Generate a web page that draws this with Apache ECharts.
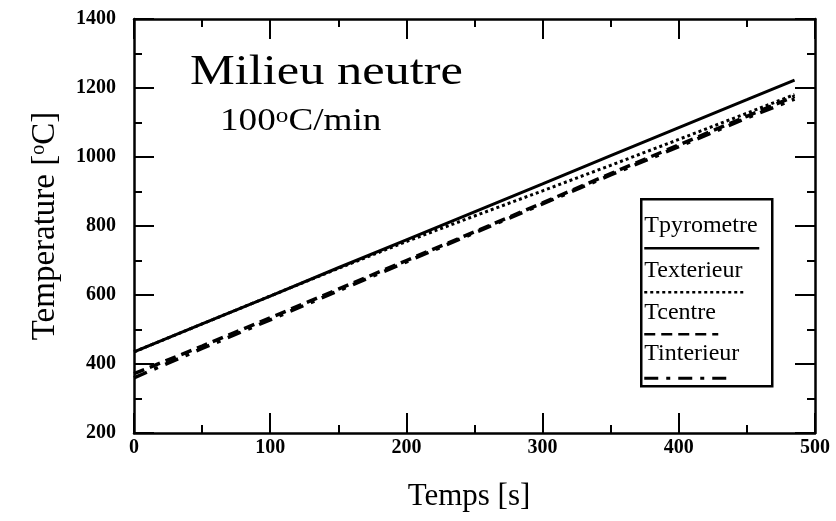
<!DOCTYPE html>
<html>
<head>
<meta charset="utf-8">
<script src="https://cdn.jsdelivr.net/npm/echarts@6/dist/echarts.min.js"></script>
<style>
  html, body { margin: 0; padding: 0; background: #fff; }
  #chart { width: 836px; height: 521px; }
</style>
</head>
<body>
<div id="chart"></div>
<script>
// Time samples [s]
const temps = [0, 50, 100, 150, 200, 250, 300, 350, 400, 450, 485];
// Temperatures [°C]
const tPyrometre  = [435, 516, 597, 679, 760, 841, 922, 1004, 1085, 1166, 1223];
const tExterieur  = [435, 516, 597, 677, 755, 829, 902, 976, 1051, 1127, 1181];
const tCentre     = [372, 452, 534, 617, 700, 783, 867, 952, 1035, 1118, 1176];
const tInterieur  = [360, 445, 528, 612, 696, 780, 864, 948, 1030, 1113, 1168];
// Axis ranges and ticks
const xRange = [0, 500], xStep = 100;
const yRange = [200, 1400], yStep = 200;

const serif = '"Liberation Serif", "Times New Roman", serif';
const pair = arr => temps.map((t, i) => [t, arr[i]]);

const chart = echarts.init(document.getElementById('chart'), null, { renderer: 'canvas' });

const axisBase = {
  type: 'value',
  axisLine: { show: true, onZero: false, lineStyle: { color: '#000', width: 2.5 } },
  axisTick: { show: true, inside: true, length: 20, lineStyle: { color: '#000', width: 2 } },
  minorTick: { show: true, splitNumber: 2, length: 8, lineStyle: { color: '#000', width: 2 } },
  splitLine: { show: false },
  minorSplitLine: { show: false }
};

const tickFont = { color: '#000', fontFamily: serif, fontWeight: 'bold', fontSize: 20, formatter: v => String(v) };

const lineSeries = (name, arr, type, width) => ({
  name, type: 'line', data: pair(arr), symbol: 'none',
  lineStyle: { color: '#000', width, type }
});

chart.setOption({
  animation: false,
  backgroundColor: '#fff',
  grid: { left: 134, right: 21, top: 19, bottom: 88 },
  xAxis: [
    Object.assign({}, axisBase, {
      position: 'bottom', min: xRange[0], max: xRange[1], interval: xStep,
      axisLabel: Object.assign({ margin: 5 }, tickFont)
    }),
    Object.assign({}, axisBase, {
      position: 'top', min: xRange[0], max: xRange[1], interval: xStep,
      axisLabel: { show: false }
    })
  ],
  yAxis: [
    Object.assign({}, axisBase, {
      position: 'left', min: yRange[0], max: yRange[1], interval: yStep,
      axisLabel: Object.assign({ margin: 18 }, tickFont)
    }),
    Object.assign({}, axisBase, {
      position: 'right', min: yRange[0], max: yRange[1], interval: yStep,
      axisLabel: { show: false }
    })
  ],
  series: [
    lineSeries('Tinterieur', tInterieur, [14, 8, 4, 8], 3.5),
    lineSeries('Tcentre', tCentre, [11, 6], 3.5),
    lineSeries('Texterieur', tExterieur, [3, 3], 3),
    lineSeries('Tpyrometre', tPyrometre, 'solid', 3)
  ],
  graphic: [
    // plot title
    {
      type: 'text', left: 190, top: 52,
      style: { text: 'Milieu neutre', font: '42px ' + serif, fill: '#000' },
      scaleX: 1.2
    },
    {
      type: 'text', left: 220, top: 106,
      style: {
        text: '100{sup|o}C/min',
        font: '31px ' + serif, fill: '#000',
        rich: { sup: { fontSize: 21, fontFamily: serif, verticalAlign: 'top', fill: '#000' } }
      },
      scaleX: 1.2
    },
    // axis titles
    {
      type: 'text', x: 469, y: 497,
      style: { text: 'Temps [s]', font: '31px ' + serif, fill: '#000', align: 'center', verticalAlign: 'middle' }
    },
    {
      type: 'text', x: 45, y: 226, rotation: Math.PI / 2,
      style: {
        text: 'Temperature [{sup|o}C]', font: '33px ' + serif, fill: '#000',
        align: 'center', verticalAlign: 'middle',
        rich: { sup: { fontSize: 20, fontFamily: serif, verticalAlign: 'top', fill: '#000' } }
      }
    },
    // legend box
    {
      type: 'group', left: 640, top: 198,
      children: [
        { type: 'rect', shape: { x: 0, y: 0, width: 131, height: 187 }, style: { fill: '#fff', stroke: '#000', lineWidth: 2.5 } },
        { type: 'text', x: 3, y: 38, style: { text: 'Tpyrometre', font: '24px ' + serif, fill: '#000', verticalAlign: 'bottom' } },
        { type: 'line', shape: { x1: 3, y1: 49, x2: 118, y2: 49 }, style: { stroke: '#000', lineWidth: 2.5 } },
        { type: 'text', x: 3, y: 83, style: { text: 'Texterieur', font: '24px ' + serif, fill: '#000', verticalAlign: 'bottom' } },
        { type: 'line', shape: { x1: 3, y1: 93, x2: 105, y2: 93 }, style: { stroke: '#000', lineWidth: 2.5, lineDash: [3, 3] } },
        { type: 'text', x: 3, y: 125, style: { text: 'Tcentre', font: '24px ' + serif, fill: '#000', verticalAlign: 'bottom' } },
        { type: 'line', shape: { x1: 3, y1: 135, x2: 77, y2: 135 }, style: { stroke: '#000', lineWidth: 2.5, lineDash: [11, 6] } },
        { type: 'text', x: 3, y: 166, style: { text: 'Tinterieur', font: '24px ' + serif, fill: '#000', verticalAlign: 'bottom' } },
        { type: 'line', shape: { x1: 3, y1: 179, x2: 87, y2: 179 }, style: { stroke: '#000', lineWidth: 3, lineDash: [14, 8, 4, 8] } }
      ]
    }
  ]
});
</script>
</body>
</html>
